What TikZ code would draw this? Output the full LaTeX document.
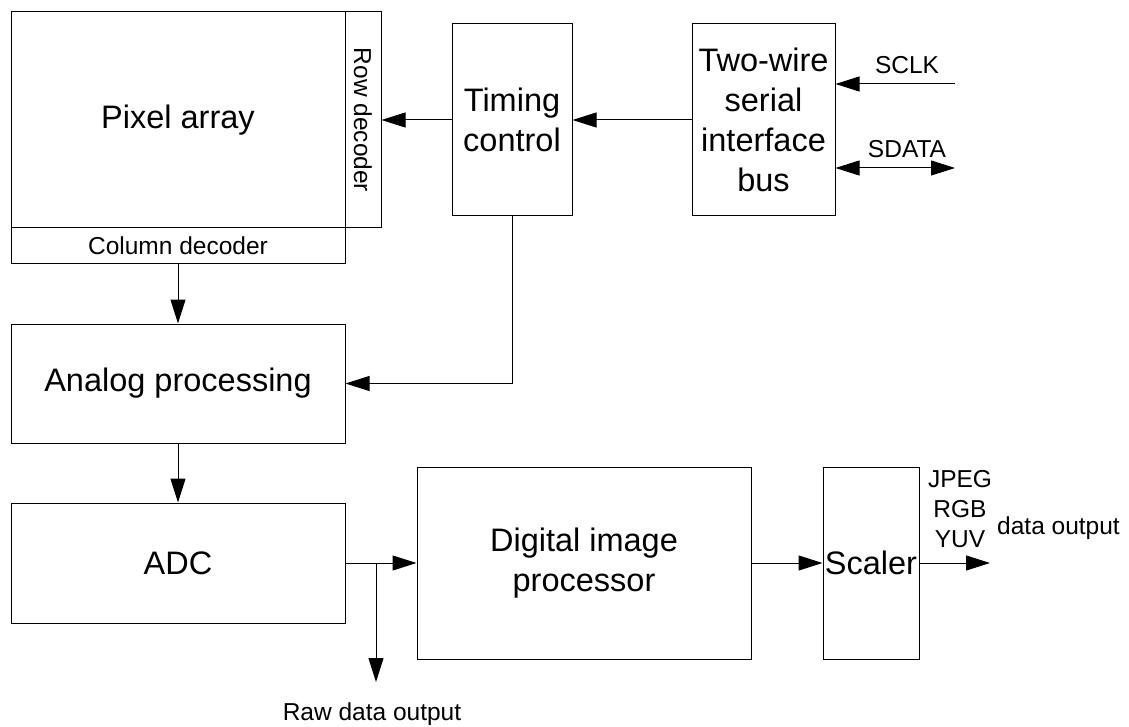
\documentclass[tikz,border=0pt]{standalone}
\usepackage{fontspec}
\setmainfont{Liberation Sans}
\usetikzlibrary{arrows.meta}
\begin{document}
\begin{tikzpicture}[x=1pt,y=-1pt,
  box/.style={draw, line width=1pt, inner sep=0pt, anchor=center},
  big/.style={font=\fontsize{32.5}{40}\selectfont, align=center},
  small/.style={font=\fontsize{24.5}{30}\selectfont, align=center, inner sep=0pt},
  conn/.style={line width=1pt, -{Triangle[length=24pt,width=15pt]}},
  biconn/.style={line width=1pt, {Triangle[length=24pt,width=15pt]}-{Triangle[length=24pt,width=15pt]}},
  ]
\useasboundingbox (0,0) rectangle (1129,727);

% blocks
\node[box, big, minimum width=334pt, minimum height=216pt] (pix) at (178,120) {Pixel array};
\node[box, minimum width=36pt, minimum height=216pt] (rowdec) at (363,120) {};
\node[small, rotate=-90] (rowdectext) at (rowdec.center) {Row decoder};
\node[box, small, minimum width=334pt, minimum height=36pt] (coldec) at (178,246) {Column decoder};
\node[box, big, minimum width=120pt, minimum height=192pt] (timing) at (512,120) {Timing\\control};
\node[box, big, minimum width=143pt, minimum height=192pt] (twowire) at (763.5,120) {Two-wire\\serial\\interface\\bus};
\node[box, big, minimum width=334pt, minimum height=119pt] (analog) at (178,383.5) {Analog processing};
\node[box, big, minimum width=334pt, minimum height=120pt] (adc) at (178,563) {ADC};
\node[box, big, minimum width=334pt, minimum height=192pt] (dip) at (584,563) {Digital image\\processor};
\node[box, big, minimum width=96pt, minimum height=192pt] (scaler) at (871,563) {Scaler};

% free ends
\coordinate (sclkin) at (955,84);
\coordinate (sdataout) at (955,168);
\coordinate (branch) at (376,563);
\coordinate (rawend) at (376,682);
\coordinate (outend) at (990,563);

% connectors
\draw[conn] (timing.west) -- (rowdec.east);
\draw[conn] (twowire.west) -- (timing.east);
\draw[conn] (sclkin) -- (sclkin -| twowire.east);
\draw[biconn] (sdataout -| twowire.east) -- (sdataout);
\draw[conn] (coldec.south) -- (analog.north);
\draw[conn] (timing.south) |- (analog.east);
\draw[conn] (analog.south) -- (adc.north);
\draw[conn] (adc.east) -- (dip.west);
\draw[conn] (branch) -- (rawend);
\draw[conn] (dip.east) -- (scaler.west);
\draw[conn] (scaler.east) -- (outend);

% labels
\node[small] (sclk) at (907,65) {SCLK};
\node[small] (sdata) at (907,149) {SDATA};
\node[small] (raw) at (372,714) {Raw data output};
\node[small] (fmt) at (960,509) {JPEG\\RGB\\YUV};
\node[small, anchor=west] (dout) at (997,528) {data output};
\end{tikzpicture}
\end{document}
